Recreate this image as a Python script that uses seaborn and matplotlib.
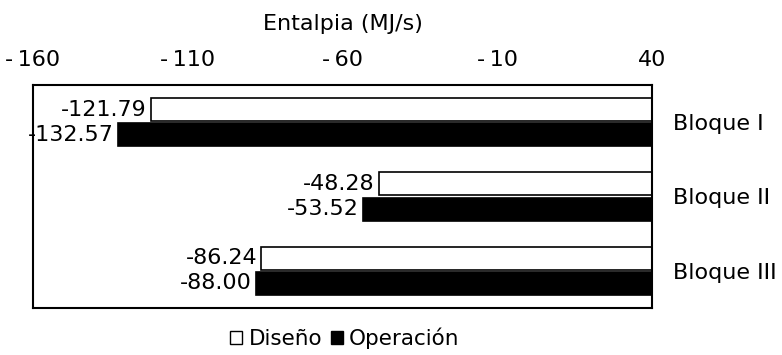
import numpy as np
import pandas as pd
import matplotlib
matplotlib.use("Agg")
import matplotlib.pyplot as plt
import seaborn as sns
from matplotlib.patches import Patch

# ---- data ----
bloques = ["Bloque I", "Bloque II", "Bloque III"]
series = ["Diseño", "Operación"]
diseno = [-121.79, -48.28, -86.24]
operacion = [-132.57, -53.52, -88.00]
x_ticks = [-160, -110, -60, -10, 40]
x_tick_labels = ["-\u2009160", "-\u2009110", "-\u200960", "-\u200910", "40"]
axis_title = "Entalpia (MJ/s)"
base_value = 40  # value axis crosses here (bars grow from it)

df = pd.DataFrame({
    "Bloque": bloques * 2,
    "Serie": [series[0]] * len(bloques) + [series[1]] * len(bloques),
    "Entalpia": diseno + operacion,
})

sns.set_theme(style="white")
plt.rcParams["font.family"] = ["DejaVu Sans"]

FS = 16
W, H = 782, 355
fig = plt.figure(figsize=(W / 100, H / 100), dpi=100)
ax = fig.add_axes([33 / W, 1 - 308 / H, (652 - 33) / W, (308 - 85) / H])

sns.barplot(data=df, y="Bloque", x="Entalpia", hue="Serie", order=bloques,
            hue_order=series, orient="h", palette=["white", "black"],
            saturation=1, width=0.68, gap=0.1, edgecolor="black",
            linewidth=1.2, legend=False, ax=ax)

# bars start at the crossing value instead of zero
for cont in ax.containers:
    for patch, v in zip(cont.patches, cont.datavalues):
        patch.set_x(base_value)
        patch.set_width(v - base_value)
    ax.bar_label(cont, labels=[f"{v:.2f}" for v in cont.datavalues],
                 padding=3, fontsize=FS, color="black", clip_on=False)

ax.set_xlim(x_ticks[0], x_ticks[-1])
ax.set_xticks(x_ticks)
ax.set_xticklabels(x_tick_labels)
ax.xaxis.tick_top()
ax.xaxis.set_label_position("top")
ax.set_xlabel(axis_title, fontsize=FS, labelpad=14, color="black")
ax.set_ylabel("")
ax.yaxis.tick_right()
ax.tick_params(axis="x", length=0, pad=11, labelsize=FS, colors="black")
ax.tick_params(axis="y", length=0, pad=15, labelsize=FS, colors="black")

for sp in ax.spines.values():
    sp.set_visible(True)
    sp.set_color("black")
    sp.set_linewidth(1.5)

handles = [Patch(facecolor="white", edgecolor="black", linewidth=1, label=series[0]),
           Patch(facecolor="black", edgecolor="black", linewidth=1, label=series[1])]
leg = fig.legend(handles=handles, loc="center", bbox_to_anchor=(345 / W, 1 - 338 / H),
                 ncol=2, frameon=False, handlelength=0.55, handleheight=0.55,
                 handletextpad=0.3, columnspacing=0.4, fontsize=FS - 0.5)
for t in leg.get_texts():
    t.set_color("black")

fig.savefig("out.png", dpi=100)
